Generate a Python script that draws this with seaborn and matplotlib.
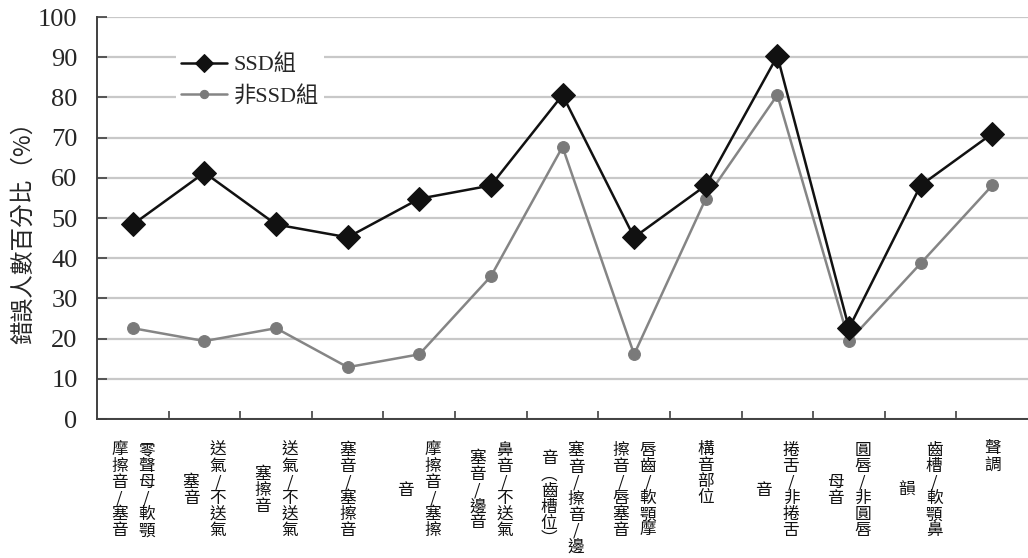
import numpy as np
import pandas as pd
import matplotlib
matplotlib.use("Agg")
import matplotlib.pyplot as plt
import seaborn as sns

# categories (column breaks of the vertical labels marked with \n)
categories = [
    "零聲母/軟顎\n摩擦音/塞音",
    "送氣/不送氣\n塞音",
    "送氣/不送氣\n塞擦音",
    "塞音/塞擦音",
    "摩擦音/塞擦\n音",
    "鼻音/不送氣\n塞音/邊音",
    "塞音/擦音/邊\n音(齒槽位)",
    "唇齒/軟顎摩\n擦音/唇塞音",
    "構音部位",
    "捲舌/非捲舌\n音",
    "圓唇/非圓唇\n母音",
    "齒槽/軟顎鼻\n韻",
    "聲調",
]
ssd = [48.4, 61.3, 48.4, 45.2, 54.8, 58.1, 80.6, 45.2, 58.1, 90.3, 22.6, 58.1, 71.0]
non_ssd = [22.6, 19.4, 22.6, 12.9, 16.1, 35.5, 67.7, 16.1, 54.8, 80.6, 19.4, 38.7, 58.1]
y_ticks = list(range(0, 101, 10))

sns.set_theme(style="white")
plt.rcParams["font.family"] = ["Liberation Serif", "Noto Sans CJK TC"]

pos = np.arange(len(categories))
df = pd.DataFrame({"pos": pos, "SSD組": ssd, "非SSD組": non_ssd})

fig = plt.figure(figsize=(10.28, 5.58), dpi=100)
ax = fig.add_axes([0.0944, 0.249, 0.9056, 0.7205])

sns.lineplot(data=df, x="pos", y="SSD組", ax=ax, color="#111111", lw=1.8,
             marker="D", markersize=12.5, markeredgecolor="#111111", label="SSD組", zorder=4)
sns.lineplot(data=df, x="pos", y="非SSD組", ax=ax, color="#858585", lw=1.8,
             marker="o", markersize=8.5, markeredgecolor="#7a7a7a", markerfacecolor="#7a7a7a",
             label="非SSD組", zorder=3)

ax.set_xlim(-0.5, len(categories) - 0.5)
ax.set_ylim(0, 100)
ax.set_yticks(y_ticks)
ax.set_yticklabels([str(t) for t in y_ticks], fontsize=19)
ax.yaxis.grid(True, color="#c8c8c8", lw=1.6)
ax.set_axisbelow(True)
ax.set_xticks(pos[:-1] + 0.5)
ax.set_xticklabels([])
ax.set_xlabel("")
ax.tick_params(axis="y", direction="in", length=7, width=1.2, color="#404040", pad=14, left=True)
ax.tick_params(axis="x", direction="in", length=6, width=1.2, color="#404040", bottom=True)
for s in ["top", "right"]:
    ax.spines[s].set_visible(False)
for s in ["left", "bottom"]:
    ax.spines[s].set_color("#404040")
    ax.spines[s].set_linewidth(1.4)

ax.set_ylabel("錯誤人數百分比（%）", fontsize=17, family=["Noto Sans CJK TC"])
ax.yaxis.set_label_coords(-0.067, 0.478)

# vertical (top-to-bottom, right-to-left) category labels
vert = {"(": "︵", ")": "︶"}
col_gap = 19.5
pitch = 12.2
for i, lab in enumerate(categories):
    cols = lab.split("\n")
    longest = max(len(c) for c in cols)
    n = len(cols)
    for j, col in enumerate(cols):
        dx = ((n - 1) / 2 - j) * col_gap
        txt = "\n".join(vert.get(ch, ch) for ch in col)
        ax.annotate(txt, xy=(pos[i], 0), xycoords=("data", "axes fraction"),
                    xytext=(dx, -15 - longest * pitch / 2), textcoords="offset points",
                    ha="center", va="center", fontsize=12, linespacing=0.93,
                    family=["Noto Sans CJK TC"], color="#111111")

leg = ax.legend(loc="upper left", bbox_to_anchor=(0.073, 0.945), fontsize=16,
                frameon=True, facecolor="white", edgecolor="none", framealpha=1,
                handlelength=2.1, handletextpad=0.3, labelspacing=0.45, borderpad=0.2,
                markerscale=0.7)

fig.savefig("out.png", dpi=100)
